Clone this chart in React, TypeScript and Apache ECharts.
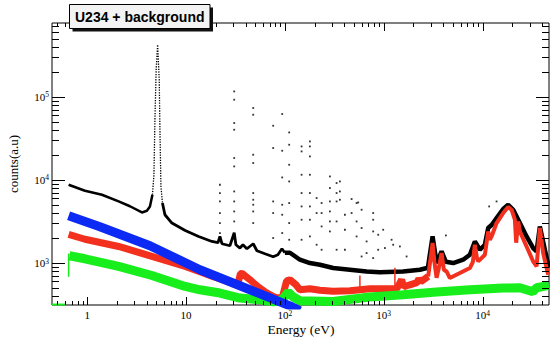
import React, { useEffect, useRef } from 'react';
import * as echarts from 'echarts';

// Axis ranges
const X_MIN = 0.44;
const X_MAX = 47000;
const Y_MIN = 313;
const Y_MAX = 770000;

const TITLE = 'U234 + background';
const X_TITLE = 'Energy (eV)';
const Y_TITLE = 'counts(a.u)';

// Black: U234 + background  [energy (eV), counts]
const blackLeft: number[][] = [
  [0.648, 8750], [0.948, 7405], [1.408, 6628], [2.078, 5506], [2.704, 4820],
  [3.575, 4060], [4.018, 4256], [4.31, 4794], [4.566, 6628],
];
const blackPeak: number[][] = [
  [4.566, 6628], [4.73, 11530], [4.84, 52900], [4.98, 211200], [5.155, 422000],
  [5.35, 160100], [5.44, 40100], [5.568, 8340], [5.766, 5268],
];
const blackMid: number[][] = [
  [5.766, 5268], [6.11, 3810], [7.19, 3027], [9.8, 2466], [13.4, 2089], [18.26, 1819],
  [21.0, 1755], [22.0, 2089], [23.06, 1707], [27.77, 1615], [30.69, 2314], [31.93, 1660],
  [35.06, 1515], [37.6, 1660], [41.26, 1486], [47.8, 1707], [52.1, 1406], [62.8, 1294],
  [76.1, 1191], [84.9, 1258], [93.3, 1486], [100, 1330],
];
const blackRight: number[][] = [
  [100, 1330], [112.4, 1330], [141.8, 1096], [179, 1000], [226, 954], [308, 871],
  [454.6, 831], [670.8, 792], [914, 775], [1562, 792], [2321, 831], [2796, 878],
  [3121, 2089], [3425, 1000], [3848, 1379], [4254, 1036], [5041, 1000], [6363, 1096],
  [7439, 1258], [8357, 1819], [9391, 1445], [10550, 1660], [11400, 2636], [12420, 2888],
  [13855, 3477], [16160, 4461], [18155, 5024], [20400, 4375], [23850, 3027], [27870, 2089],
  [32510, 1515], [35180, 1379], [37980, 2756], [42690, 1445], [46850, 877],
];
// Isolated resonance points above the black curve
const blackDots: number[][] = [
  [22.0, 8745], [22.0, 6946], [22.0, 5506], [22.0, 3993], [22.0, 3027], [22.0, 2295],
  [30.69, 115800], [30.69, 92050], [30.69, 48280], [30.69, 40100], [30.69, 18320], [30.69, 14520],
  [30.69, 7262], [30.69, 5506], [30.69, 4174], [30.69, 3164],
  [47.8, 73150], [47.8, 60740], [47.8, 20070], [47.8, 15950], [47.8, 6946], [47.8, 5771],
  [47.8, 5025], [47.8, 4174], [47.8, 3027],
  [76.1, 44790], [76.1, 24150], [76.1, 5506], [76.1, 3993], [76.1, 1998],
  [93.9, 61930], [93.9, 22410], [93.9, 10700], [93.9, 5025], [93.9, 3810], [93.9, 2295],
  [110.5, 37210], [110.5, 26470], [110.5, 15210], [110.5, 9580], [110.5, 5268], [110.5, 3027], [110.5, 1906],
  [147.5, 25250], [147.5, 21990], [147.5, 11530], [147.5, 6946], [147.5, 4794], [147.5, 3317], [147.5, 1906],
  [179, 29000], [179, 25250], [179, 19140], [179, 11530], [179, 6946], [179, 4794], [179, 3317], [179, 2089],
  [209.3, 6048], [209.3, 3993], [209.3, 1660],
  [235.1, 5268], [235.1, 3993], [235.1, 2756], [235.1, 1445],
  [285.2, 11000], [285.2, 7980], [285.2, 5506], [285.2, 4174], [285.2, 3164], [285.2, 2399],
  [333.4, 9166], [333.4, 6946], [333.4, 5506], [333.4, 3164], [333.4, 1445],
  [360, 9580], [360, 7262], [360, 5771],
  [404.6, 3810], [404.6, 2515], [404.6, 1445],
  [473, 5885], [473, 3993],
  [531.3, 5268], [531.3, 3164], [531.3, 2089],
  [551.4, 5356], [597, 4375], [597, 2636], [597, 1200],
  [670.8, 1819], [670.8, 1319],
  [782.1, 3993], [782.1, 3317], [782.1, 2399], [782.1, 1148],
  [878.9, 2189], [878.9, 1445], [987.2, 2515], [1027, 1515], [1200.5, 1906], [1246, 1660],
  [1457, 1583], [1703, 1200], [4254, 2147], [11660, 4794], [13855, 5506],
];

// Red
const redLeft: number[][] = [
  [0.648, 2208], [0.948, 1933], [2.078, 1583], [4.513, 1201], [9.8, 910], [13.81, 786],
  [18.26, 694], [25.72, 604], [33.46, 564], [35.45, 743], [36.7, 754], [44.25, 630],
  [53.3, 519], [65.3, 439], [79.2, 388], [93.3, 372], [104.0, 612], [112.4, 630],
  [129.2, 548], [141.8, 477], [179, 491], [226, 471], [308, 458], [454.6, 465],
  [724, 491], [914, 491], [1238, 491], [1358, 491], [1516, 630], [1599, 519],
  [1839, 548], [2164, 580], [2267, 648], [2376, 596], [2816, 690],
];
const redRight: number[][] = [
  [2816, 690], [2965, 1096], [3121, 1740], [3254, 1036], [3425, 666], [3613, 878],
  [3848, 1319], [4059, 831], [4323, 792], [4669, 660], [5894, 758], [7439, 871],
  [7977, 1036], [8357, 1660], [8757, 1158], [9026, 1045], [10550, 1258], [11400, 2399],
  [11853, 1906], [12337, 2089], [13855, 3027], [16160, 3993], [18155, 4715], [19650, 4375],
  [21220, 3317], [21870, 1755], [22920, 3164], [23850, 2399], [27870, 1583], [32510, 1045],
  [35180, 910], [37980, 2636], [41030, 1319], [46100, 723],
];
// narrow red spikes: [energy, base, top]
const redSpikes: number[][] = [[573.8, 470, 709], [1297, 480, 878]];

// Blue
const blue: number[][] = [
  [0.648, 3706], [1.344, 2733], [4.31, 1615], [13.81, 831], [44.25, 477], [112.4, 306], [141.8, 267],
];

// Green
const green: number[][] = [
  [0.661, 1224], [0.948, 1126], [2.078, 910], [4.513, 709], [9.8, 523], [13.81, 477],
  [22.0, 436], [35.06, 379], [55.9, 362], [76.1, 342], [93.3, 362], [108, 448],
  [120.4, 393], [141.8, 352], [306, 345], [724, 390], [1562, 416], [3425, 448],
  [7439, 477], [16160, 500], [23850, 505], [32280, 452], [35180, 505], [46850, 538],
];
const greenEdge: number[][] = [[0.648, 684], [0.648, 1300]];
const greenZero: number[][] = [[0.44, 317], [0.6, 317]];

const X_DECADES = [0.1, 1, 10, 100, 1000, 10000];
const Y_DECADES = [100, 1000, 10000, 100000];

const SERIF = "'Liberation Serif', 'DejaVu Serif', serif";
const SANS = "'Liberation Sans', Arial, sans-serif";

const BLACK = '#000000';
const RED = '#f3301e';
const BLUE = '#0c2af4';
const GREEN = '#18ee1c';

function buildTicks(decades: number[], lo: number, hi: number) {
  const out: number[][] = [];
  decades.forEach((d) => {
    for (let m = 1; m <= 9; m++) {
      const v = d * m;
      if (v >= lo && v <= hi) out.push([v, m === 1 ? 1 : 0]);
    }
  });
  return out;
}

const fmt = (v: number) => {
  const k = Math.log10(v);
  const r = Math.round(k);
  if (Math.abs(k - r) > 1e-6) return '';
  if (r === 0) return '{b|1}';
  if (r === 1) return '{b|10}';
  return `{b|10}{s|${r}}`;
};

const rich = {
  b: { fontFamily: SERIF, fontSize: 11, color: '#000', lineHeight: 12 },
  s: { fontFamily: SERIF, fontSize: 7.5, color: '#000', lineHeight: 7, verticalAlign: 'top' },
};

function lineSeries(data: number[][], color: string, width: number, type: string = 'solid') {
  return {
    type: 'line',
    data,
    showSymbol: false,
    symbol: 'none',
    silent: true,
    lineStyle: { color, width, type },
  };
}

export default function App() {
  const ref = useRef<HTMLDivElement>(null);

  useEffect(() => {
    document.body.style.margin = '0';
    const chart = echarts.init(ref.current!, null, { renderer: 'svg' });

    const xTicks = buildTicks(X_DECADES, X_MIN, X_MAX).map((t) => [t[0], 1000, t[1]]);
    const yTicks = buildTicks(Y_DECADES, Y_MIN, Y_MAX).map((t) => [1, t[0], t[1]]);

    const spikeSeries = redSpikes.map((s) =>
      lineSeries([[s[0], s[1]], [s[0], s[2]]], RED, 1.5)
    );

    chart.setOption({
      animation: false,
      backgroundColor: '#ffffff',
      grid: {
        left: 52, right: 1, top: 23, bottom: 35,
        show: true, borderColor: '#000', borderWidth: 1, backgroundColor: 'transparent',
      },
      xAxis: {
        type: 'log', logBase: 10, min: X_MIN, max: X_MAX,
        axisLine: { show: false }, axisTick: { show: false }, splitLine: { show: false },
        axisLabel: { margin: 4, showMinLabel: false, showMaxLabel: false, formatter: fmt, rich },
      },
      yAxis: {
        type: 'log', logBase: 10, min: Y_MIN, max: Y_MAX,
        axisLine: { show: false }, axisTick: { show: false }, splitLine: { show: false },
        axisLabel: { margin: 3, showMinLabel: false, showMaxLabel: false, formatter: fmt, rich },
      },
      series: [
        lineSeries(blackLeft, BLACK, 2.5),
        lineSeries(blackPeak, BLACK, 1.3, 'dotted'),
        lineSeries(blackMid, BLACK, 2.8),
        lineSeries(blackRight, BLACK, 4.5),
        {
          type: 'scatter', data: blackDots, symbol: 'rect', symbolSize: 1.8,
          itemStyle: { color: BLACK }, silent: true,
        },
        lineSeries(redLeft, RED, 7),
        lineSeries(redRight, RED, 4),
        ...spikeSeries,
        lineSeries(green, GREEN, 9),
        lineSeries(greenEdge, GREEN, 1.5),
        lineSeries(greenZero, GREEN, 2),
        lineSeries(blue, BLUE, 9),
        {
          type: 'custom', data: xTicks, silent: true, clip: false, z: 10,
          renderItem: (params: any, api: any) => {
            const cs = params.coordSys;
            const px = Math.round(api.coord([api.value(0), 1000])[0]) + 0.5;
            const len = api.value(2) === 1 ? 8 : 4;
            const top = cs.y;
            const bottom = cs.y + cs.height;
            const st = { stroke: '#000', lineWidth: 1 };
            return {
              type: 'group',
              children: [
                { type: 'line', shape: { x1: px, y1: bottom, x2: px, y2: bottom - len }, style: st },
                { type: 'line', shape: { x1: px, y1: top, x2: px, y2: top + len }, style: st },
              ],
            };
          },
        },
        {
          type: 'custom', data: yTicks, silent: true, clip: false, z: 10,
          renderItem: (params: any, api: any) => {
            const cs = params.coordSys;
            const py = Math.round(api.coord([1, api.value(1)])[1]) + 0.5;
            const len = api.value(2) === 1 ? 13 : 7;
            const left = cs.x;
            const right = cs.x + cs.width;
            const st = { stroke: '#000', lineWidth: 1 };
            return {
              type: 'group',
              children: [
                { type: 'line', shape: { x1: left, y1: py, x2: left + len, y2: py }, style: st },
                { type: 'line', shape: { x1: right, y1: py, x2: right - len, y2: py }, style: st },
              ],
            };
          },
        },
      ],
      graphic: [
        { type: 'rect', shape: { x: 72.5, y: 7.5, width: 140.5, height: 24 }, style: { fill: '#111' }, z: 100 },
        { type: 'rect', shape: { x: 69.5, y: 4.5, width: 140.5, height: 24 }, style: { fill: '#f3f3f3', stroke: '#000', lineWidth: 1 }, z: 101 },
        {
          type: 'text', x: 139.75, y: 16.5, z: 102,
          style: { text: TITLE, font: `bold 14px ${SANS}`, fill: '#000', textAlign: 'center', textVerticalAlign: 'middle' },
        },
        {
          type: 'text', x: 301, y: 329, z: 102,
          style: { text: X_TITLE, font: `13.5px ${SERIF}`, fill: '#000', textAlign: 'center', textVerticalAlign: 'middle' },
        },
        {
          type: 'text', x: 13, y: 164, rotation: Math.PI / 2, z: 102,
          style: { text: Y_TITLE, font: `13px ${SERIF}`, fill: '#000', textAlign: 'center', textVerticalAlign: 'middle' },
        },
      ],
    });

    return () => chart.dispose();
  }, []);

  return <div ref={ref} style={{ position: 'absolute', left: 0, top: 0, width: 550, height: 340 }} />;
}
